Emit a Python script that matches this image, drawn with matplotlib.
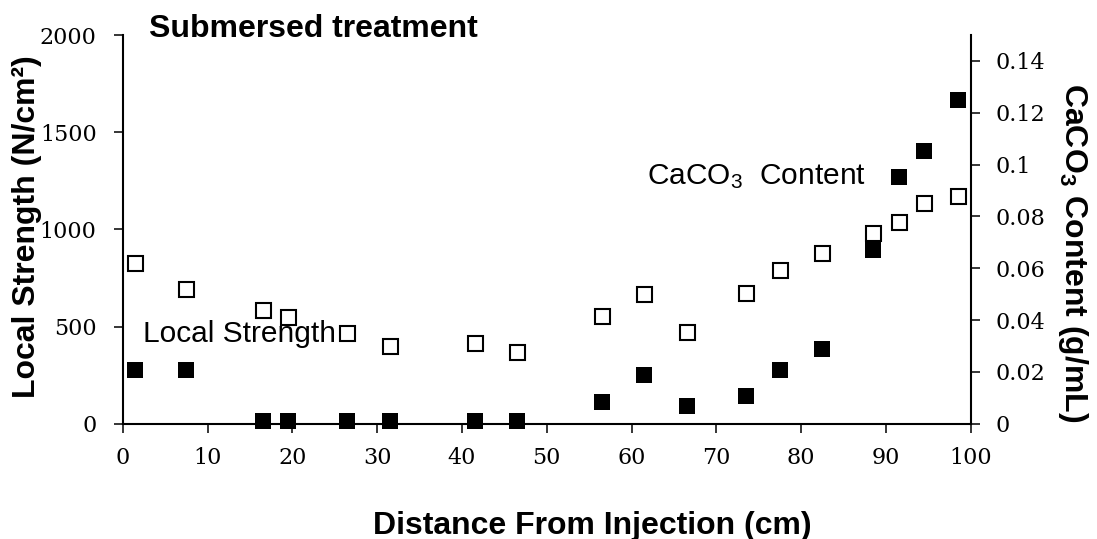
import numpy as np
import matplotlib
matplotlib.use('Agg')
import matplotlib.pyplot as plt

# data
dist = [1.5, 7.5, 16.5, 19.5, 26.5, 31.5, 41.5, 46.5, 56.5, 61.5,
        66.5, 73.5, 77.5, 82.5, 88.5, 91.5, 94.5, 98.5]
strength = [275, 275, 15, 15, 15, 15, 15, 15, 110, 250,
            90, 145, 275, 385, 895, 1270, 1405, 1665]
caco3 = [0.062, 0.052, 0.044, 0.041, 0.035, 0.030, 0.031, 0.0275, 0.0415, 0.050,
         0.0355, 0.0505, 0.0595, 0.066, 0.0735, 0.0778, 0.0853, 0.088]

x_ticks = [0, 10, 20, 30, 40, 50, 60, 70, 80, 90, 100]
left_ticks = [0, 500, 1000, 1500, 2000]
right_ticks = [0, 0.02, 0.04, 0.06, 0.08, 0.1, 0.12, 0.14]

plt.rcParams['font.family'] = ['DejaVu Serif']
plt.rcParams['mathtext.default'] = 'regular'
sans = 'Liberation Sans'

W, H = 1097, 539
fig = plt.figure(figsize=(W / 100, H / 100), dpi=100)
ax = fig.add_axes([122.7 / W, 1 - 423.7 / H, 848 / W, 388.7 / H])
ax2 = ax.twinx()

# filled squares -> local strength (left), open squares -> CaCO3 (right)
ax.plot(dist, strength, 's', ms=12, mfc='black', mec='black', mew=0, clip_on=False, zorder=3)
ax2.plot(dist, caco3, 's', ms=10.8, mfc='white', mec='black', mew=1.5, clip_on=False, zorder=3)

ax.set_xlim(0, 100)
ax.set_ylim(0, 2000)
ax2.set_ylim(0, 0.15)
ax.set_xticks(x_ticks)
ax.set_yticks(left_ticks)
ax2.set_yticks(right_ticks)
ax2.set_yticklabels(['{:g}'.format(v) for v in right_ticks])

for a in (ax, ax2):
    a.spines['top'].set_visible(False)
    for s in a.spines.values():
        s.set_linewidth(1.5)
ax.spines['right'].set_visible(False)
ax2.spines['left'].set_visible(False)
ax2.spines['bottom'].set_visible(False)

ax.tick_params(axis='x', direction='out', length=6.3, width=1.1, labelsize=16, pad=10.5)
ax.tick_params(axis='y', direction='out', length=6.3, width=1.1, labelsize=16, pad=12.5)
ax2.tick_params(axis='y', direction='out', length=6.3, width=1.1, labelsize=16, pad=11.5)

# labels
fig.text(149 / W, 1 - 37 / H, 'Submersed treatment', fontsize=23, fontweight='bold',
         family=sans, va='baseline', ha='left')
fig.text(27 / W, 1 - 227 / H, 'Local Strength (N/cm²)', rotation=90, fontsize=23,
         fontweight='bold', family=sans, ha='center', va='center')
fig.text(1072.5 / W, 1 - 253 / H, 'CaCO$_3$ Content (g/mL)', rotation=-90, fontsize=23,
         fontweight='bold', family=sans, ha='center', va='center')
fig.text(592 / W, 1 - 534 / H, 'Distance From Injection (cm)', fontsize=23,
         fontweight='bold', family=sans, ha='center', va='baseline')

ax.text(2.4, 419, 'Local Strength', fontsize=21.5, family=sans, va='baseline', zorder=2)
ax.text(61.8, 1233, 'CaCO$_3$  Content', fontsize=21.5, family=sans, va='baseline', zorder=2)

fig.savefig('out.png', dpi=100)
